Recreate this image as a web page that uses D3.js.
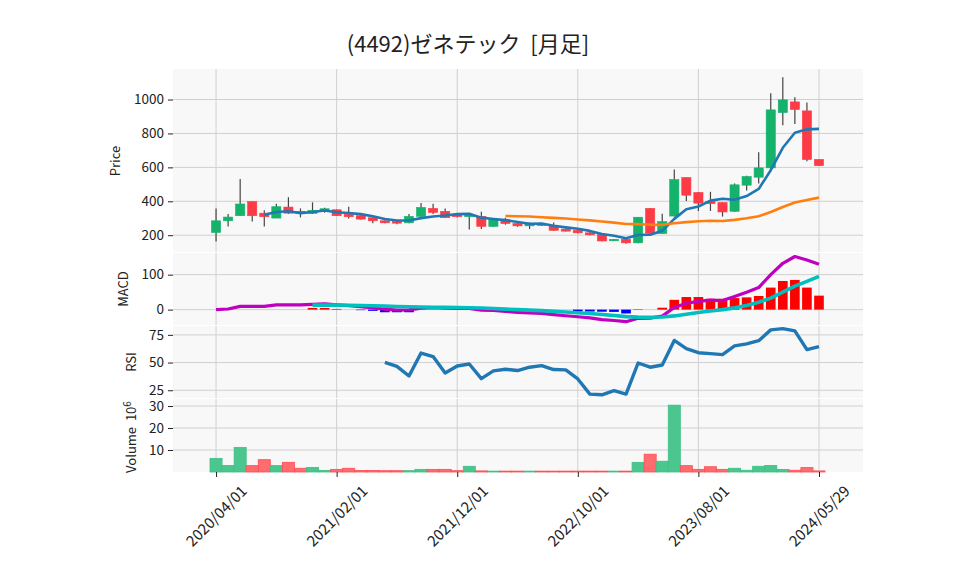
<!DOCTYPE html>
<html>
<head>
<meta charset="utf-8">
<script src="https://cdn.jsdelivr.net/npm/d3@7"></script>
<style>
  body { margin: 0; background: #fff; }
  text { font-family: "Noto Sans CJK JP", "Noto Sans", sans-serif; fill: #222; }
</style>
</head>
<body>
<div id="chart"></div>
<script>
// monthly candles, index 0 = 2020/04 ... 50 = 2024/05
var openP  = [216,285,315,398,330,301,366,341,329,342,350,323,315,303,285,281,273,311,358,341,320,309,311,252,291,269,255,266,258,236,229,214,204,168,176,155,358,210,313,540,452,398,392,341,495,542,597,923,986,933,647];
var highP  = [358,325,532,400,347,386,424,358,394,362,352,368,317,305,287,290,325,390,386,358,330,330,338,297,303,275,275,270,275,240,232,218,206,178,178,306,360,327,587,542,455,456,395,505,550,689,1037,1131,1013,982,647];
var lowP   = [163,252,315,281,252,301,325,305,325,333,313,299,292,271,270,265,270,309,325,301,305,234,236,250,262,250,236,255,226,222,210,200,164,166,150,153,210,207,310,401,343,343,310,337,464,505,590,849,855,636,610];
var closeP = [285,307,384,315,309,368,330,330,347,356,315,309,295,285,273,271,311,364,334,303,309,320,252,295,269,255,266,258,229,224,214,202,166,176,155,306,213,280,528,436,389,386,337,497,546,597,939,998,941,646,610];
// volume in millions
var volume = [6.2,3.0,11.2,2.9,5.6,2.9,4.4,1.7,2.1,0.75,1.2,1.7,0.7,0.7,0.6,0.6,0.6,1.2,1.2,1.2,0.6,2.6,0.5,0.4,0.4,0.4,0.4,0.4,0.4,0.4,0.4,0.4,0.4,0.4,0.4,4.4,8.1,4.9,30.4,2.9,1.2,2.4,1.2,1.7,0.8,2.6,3.0,1.2,0.8,2.0,0.5];
var ma5 = [null,null,null,null,320,336.6,341.2,330.4,336.8,346.2,335.6,331.4,324.4,312,295.4,286.6,287,300.8,310.6,316.6,324.2,326,303.6,295.8,289,278.2,267.4,268.6,255.4,246.4,238.2,225.4,207,196.4,182.6,201,203.2,226,296.4,352.6,369.2,403.8,415.2,409,431,472.6,583.2,715.4,804.2,824.2,826.8];
var ma25 = [null,null,null,null,null,null,null,null,null,null,null,null,null,null,null,null,null,null,null,null,null,null,null,null,313.4,312.2,310.6,305.6,302.1,298.7,292.6,287.4,280.9,274,266,265.6,261.8,261.2,270.9,277.4,282.2,285.2,284.1,290.6,300.3,311.8,336.6,366.4,392.3,407.4,421.6];
var macd = [0,1.8,9.3,9.5,9.1,13.4,13.6,13.6,14.8,16.3,14,11.6,8.4,5.1,1.4,-1.6,-0.8,4.1,5.5,4,3.3,3.6,-1.6,-2.3,-4.8,-7.9,-9.4,-11,-14.5,-17.5,-20.4,-23.4,-28.4,-31.1,-34.6,-24.9,-24.5,-18.5,6.2,18.2,23.5,27.3,26,37.4,49.8,63.1,100,132.6,152,141.9,129.6];
var signal = [null,null,null,null,null,null,null,null,13,13,13,12.5,12,11,10,9,8,7.5,7,6.5,6,5.5,4.5,3,1.5,0,-1.5,-3,-5,-7,-9,-11,-14,-17,-20,-21.5,-22,-21,-18,-13,-8,-4,0,5,12,21,33,50,67,81,95];
var hist = [null,null,null,null,null,null,null,null,5,5,2,0,-1.5,-3.5,-7.5,-7.5,-7.5,-0.5,0,0,0,0,0,0,0,0,0,0,0,0,-5,-5.5,-6,-6.5,-11,-1,0,5.5,28,36,36,31,31,33,35,39,63,82,85,63,40];
var rsi = [null,null,null,null,null,null,null,null,null,null,null,null,null,null,50.1,46.6,37.9,58.6,55.4,40.5,46.9,48.7,35.5,42.5,44,42.8,45.8,47.2,43.7,43.4,35.2,21.5,20.9,24.7,21.5,49.6,45.8,47.8,70,62.6,58.9,58.1,57.2,65,66.8,69.7,79.5,80.6,78.6,61.6,64.3];

var tickIdx = [0,10,20,30,40,50];
var tickLabels = ["2020/04/01","2021/02/01","2021/12/01","2022/10/01","2023/08/01","2024/05/29"];

var width = 958, height = 575;
var left = 173, right = 863;

var svg = d3.select("#chart").append("svg")
    .attr("width", width)
    .attr("height", height);

svg.append("rect").attr("width", width).attr("height", height).attr("fill", "#fff");

var x = d3.scaleLinear().domain([-3.57, 53.65]).range([left, right]);
var step = x(1) - x(0);

// panels
var panels = {
  price: {top: 69, bottom: 252, y: d3.scaleLinear().domain([101, 1180]).range([252, 69]), ticks: [200,400,600,800,1000]},
  macd: {top: 253, bottom: 325, y: d3.scaleLinear().domain([-44, 162]).range([325, 253]), ticks: [0,100]},
  rsi: {top: 326, bottom: 398, y: d3.scaleLinear().domain([18, 83]).range([398, 326]), ticks: [25,50,75]},
  vol: {top: 399, bottom: 472, y: d3.scaleLinear().domain([0, 33.2]).range([472, 399]), ticks: [10,20,30]}
};

Object.keys(panels).forEach(function(k) {
  var p = panels[k];
  svg.append("rect")
      .attr("x", left).attr("y", p.top)
      .attr("width", right - left).attr("height", p.bottom - p.top)
      .attr("fill", "#f8f8f8");
  var g = svg.append("g");
  g.selectAll("line.h").data(p.ticks).enter().append("line")
      .attr("x1", left).attr("x2", right)
      .attr("y1", function(d) { return p.y(d); })
      .attr("y2", function(d) { return p.y(d); })
      .attr("stroke", "#d0d0d0").attr("stroke-width", 1);
  g.selectAll("line.v").data(tickIdx).enter().append("line")
      .attr("x1", function(d) { return x(d); }).attr("x2", function(d) { return x(d); })
      .attr("y1", p.top).attr("y2", p.bottom)
      .attr("stroke", "#d0d0d0").attr("stroke-width", 1);

  var ax = svg.append("g")
      .attr("transform", "translate(" + left + ",0)")
      .call(d3.axisLeft(p.y).tickValues(p.ticks).tickSize(5).tickPadding(4)
        .tickFormat(d3.format("d")));
  ax.select(".domain").remove();
  ax.selectAll("text").style("font-size", "13.5px").attr("fill", "#222");
  ax.selectAll("line").attr("stroke", "#222");
});

// price panel: candles
var py = panels.price.y;
var candles = svg.append("g");
d3.range(closeP.length).forEach(function(i) {
  var up = closeP[i] >= openP[i];
  var col = up ? "#15b26c" : "#fd3b46";
  candles.append("line")
      .attr("x1", x(i)).attr("x2", x(i))
      .attr("y1", py(highP[i])).attr("y2", py(lowP[i]))
      .attr("stroke", "#444").attr("stroke-width", 1.2);
  var top = py(Math.max(openP[i], closeP[i]));
  var bot = py(Math.min(openP[i], closeP[i]));
  candles.append("rect")
      .attr("x", x(i) - step * 0.38).attr("width", step * 0.76)
      .attr("y", top).attr("height", Math.max(bot - top, 1.5))
      .attr("fill", col).attr("stroke", col).attr("stroke-width", 0.6);
});

function drawLine(data, yScale, color, w) {
  var line = d3.line()
      .defined(function(d) { return d != null; })
      .x(function(d, i) { return x(i); })
      .y(function(d) { return yScale(d); });
  svg.append("path").datum(data)
      .attr("d", line)
      .attr("fill", "none")
      .attr("stroke", color)
      .attr("stroke-width", w)
      .attr("stroke-linejoin", "round");
}

drawLine(ma5, py, "#1f77b4", 2.6);
drawLine(ma25, py, "#ff7f0e", 2.6);

// MACD panel
var my = panels.macd.y;
hist.forEach(function(d, i) {
  if (d == null || d === 0) return;
  svg.append("rect")
      .attr("x", x(i) - step * 0.4).attr("width", step * 0.8)
      .attr("y", Math.min(my(0), my(d)))
      .attr("height", Math.abs(my(d) - my(0)))
      .attr("fill", d > 0 ? "#ff0000" : "#0000ff");
});
drawLine(macd, my, "#bf00bf", 3.2);
drawLine(signal, my, "#00bfbf", 3.6);

// RSI panel
drawLine(rsi, panels.rsi.y, "#1f77b4", 3.4);

// Volume panel
var vy = panels.vol.y;
volume.forEach(function(v, i) {
  var up = closeP[i] >= openP[i];
  svg.append("rect")
      .attr("x", x(i) - step / 2).attr("width", step)
      .attr("y", vy(v)).attr("height", vy(0) - vy(v))
      .attr("fill", up ? "#4cc68f" : "#ff6b6e")
      .attr("stroke", up ? "#3cbf84" : "#ff4d52")
      .attr("stroke-width", 0.8);
});

// x axis
var xa = svg.append("g")
    .attr("transform", "translate(0," + panels.vol.bottom + ")")
    .call(d3.axisBottom(x).tickValues(tickIdx).tickSize(5)
      .tickFormat(function(d, i) { return tickLabels[i]; }));
xa.select(".domain").remove();
xa.selectAll("line").attr("stroke", "#222");
xa.selectAll("text")
    .attr("y", 0).attr("dy", "0.35em")
    .attr("text-anchor", "middle")
    .attr("transform", "translate(0,44) rotate(-45)")
    .style("font-size", "15px")
    .attr("fill", "#222");

// axis labels
function yLabel(txt, cx, cy) {
  return svg.append("text")
      .attr("transform", "translate(" + cx + "," + cy + ") rotate(-90)")
      .attr("text-anchor", "middle")
      .attr("dy", "0.35em")
      .style("font-size", "13px")
      .text(txt);
}
yLabel("Price", 115, 161);
yLabel("MACD", 123, 289);
yLabel("RSI", 131, 362);
var vl = yLabel("Volume\u00a0\u00a010", 131, 437);
vl.append("tspan").attr("dy", "-0.5em").style("font-size", "10px").text("6");

// title
svg.append("text")
    .attr("x", 468).attr("y", 52)
    .attr("text-anchor", "middle")
    .style("font-size", "22px")
    .text("(4492)ゼネテック\u00a0\u00a0[月足]");
</script>
</body>
</html>
